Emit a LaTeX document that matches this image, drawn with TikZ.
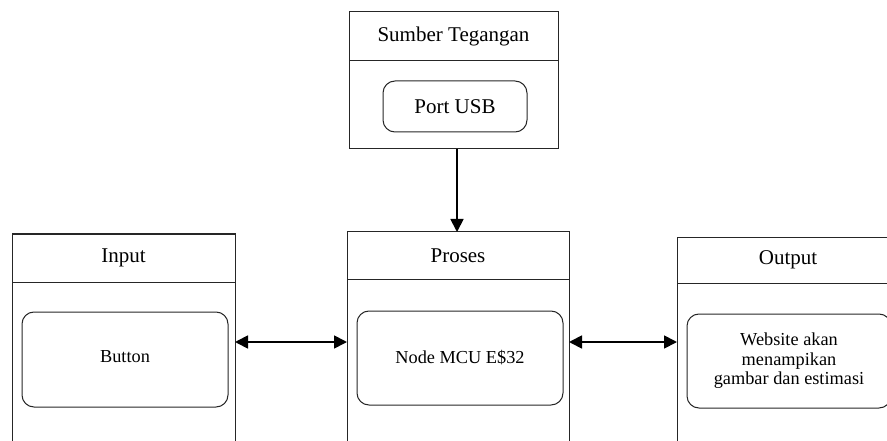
\documentclass[tikz,border=0pt]{standalone}
\usepackage{fontspec}
\setmainfont{Liberation Serif}
\usetikzlibrary{arrows.meta}
\begin{document}
\begin{tikzpicture}[x=1pt,y=-1pt,
  frame/.style={draw=black!85, line width=1pt, anchor=north west, inner sep=0pt, outer sep=0pt},
  inner/.style={draw=black!85, line width=1pt, rounded corners=12pt, inner sep=0pt, outer sep=0pt, align=center, font=\fontsize{18.3}{19.5}\selectfont},
  title/.style={font=\fontsize{21}{24}\selectfont, inner sep=0pt},
  hline/.style={draw=black!85, line width=1pt},
  conn/.style={line width=1.8pt, {Triangle[length=13pt,width=13pt]}-{Triangle[length=13pt,width=13pt]}},
  conn1/.style={line width=1.8pt, -{Triangle[length=13pt,width=13pt]}}
]
\useasboundingbox (0,0) rectangle (887,441);
\clip (0,0) rectangle (887,441);

% Sumber Tegangan
\node[frame, minimum width=209pt, minimum height=137pt] (sumber) at (349,12) {};
\coordinate (sumhl) at (0,61);
\draw[hline] (sumber.west |- sumhl) -- (sumber.east |- sumhl);
\node[title] (sumbert) at (453.5,36.5) {Sumber Tegangan};
\node[inner, font=\fontsize{21}{24}\selectfont, minimum width=144pt, minimum height=51pt] (usb) at (455,106.5) {Port USB};

% Input
\node[frame, minimum width=223pt, minimum height=260pt] (input) at (12,234) {};
\coordinate (inhl) at (0,282);
\draw[hline] (input.west |- inhl) -- (input.east |- inhl);
\node[title] (inputt) at (123.5,258) {Input};
\node[inner, minimum width=206pt, minimum height=95pt] (button) at (125,359.5) {\raisebox{6pt}{Button}};

% Proses
\node[frame, minimum width=222pt, minimum height=260pt] (proses) at (347,232) {};
\coordinate (prhl) at (0,279);
\draw[hline] (proses.west |- prhl) -- (proses.east |- prhl);
\node[title] (prosest) at (458,255.5) {Proses};
\node[inner, minimum width=206pt, minimum height=94pt] (mcu) at (460,358) {Node MCU E\$32};

% Output
\node[frame, minimum width=222pt, minimum height=260pt] (output) at (677,237) {};
\coordinate (ouhl) at (0,283);
\draw[hline] (output.west |- ouhl) -- (output.east |- ouhl);
\node[title] (outputt) at (788,260) {Output};
\node[inner, minimum width=204pt, minimum height=94pt] (web) at (789,361) {Website akan\\menampikan\\gambar dan estimasi};

% Connectors
\coordinate (vx) at (457,0);
\coordinate (ay) at (0,342);
\draw[conn1] (sumber.south -| vx) -- (proses.north -| vx);
\draw[conn] (input.east |- ay) -- (proses.west |- ay);
\draw[conn] (proses.east |- ay) -- (output.west |- ay);
\end{tikzpicture}
\end{document}
